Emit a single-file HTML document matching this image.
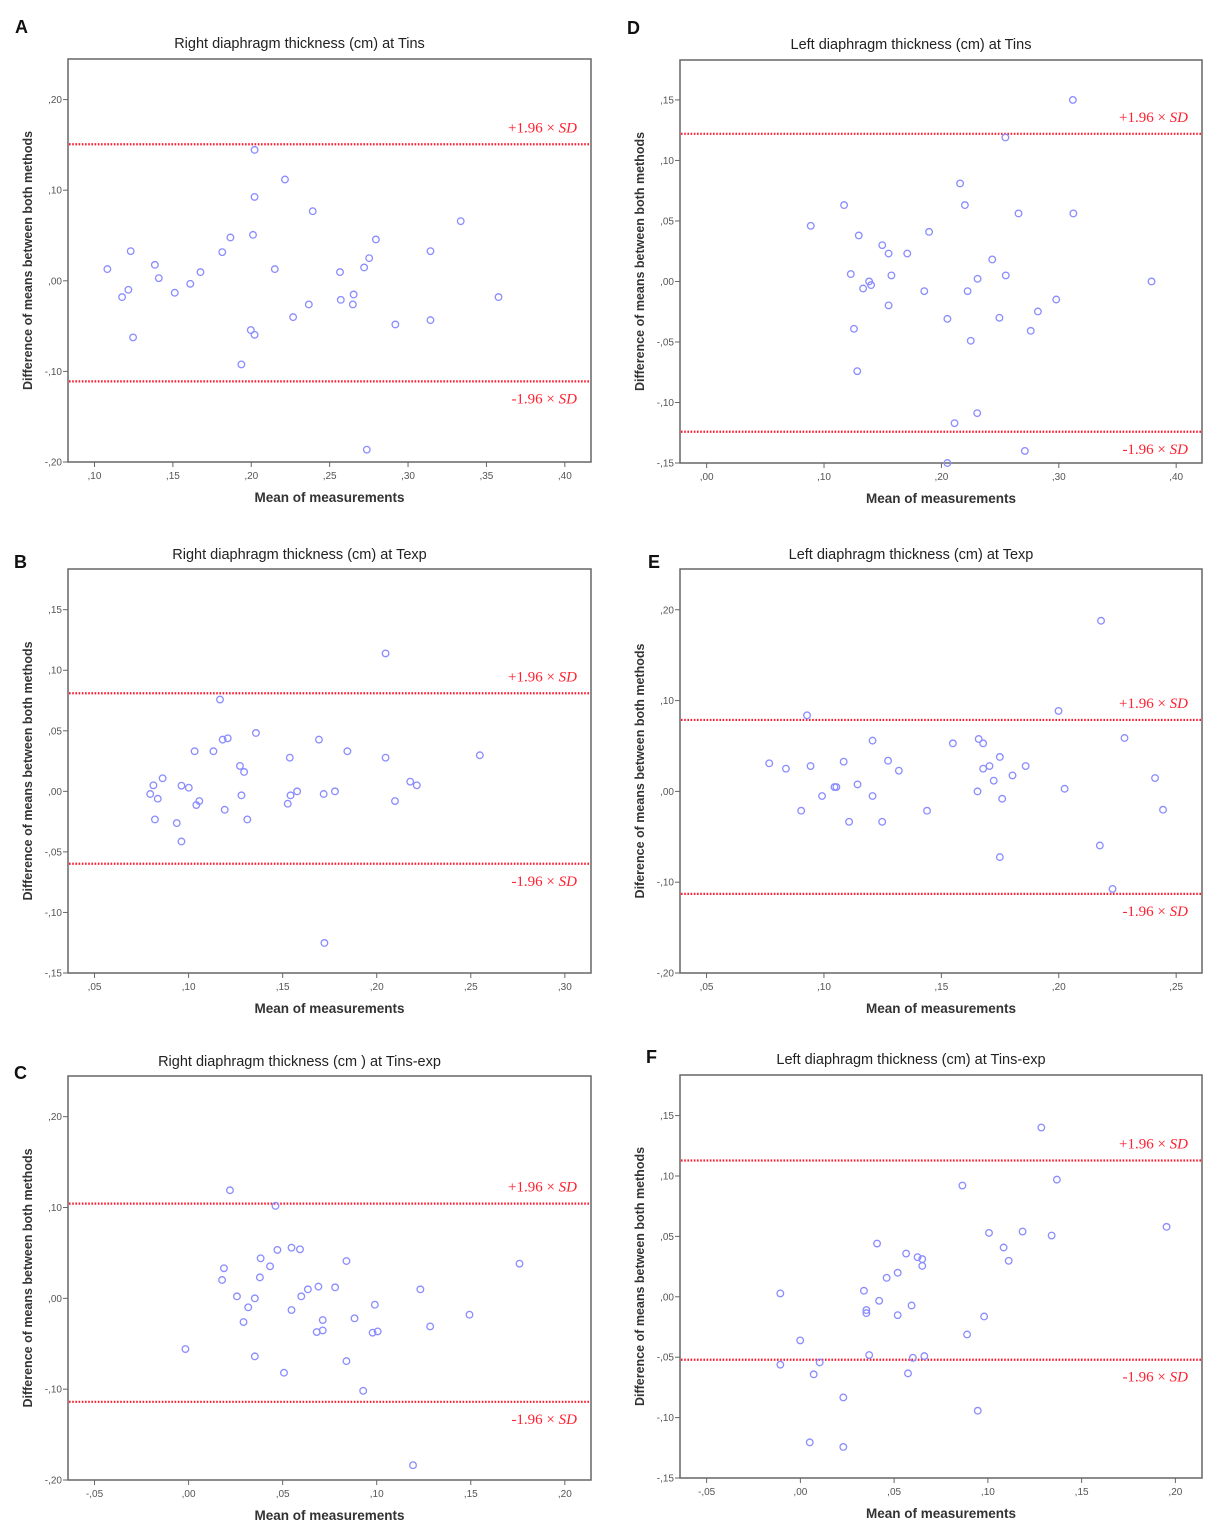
<!DOCTYPE html>
<html><head><meta charset="utf-8"><style>
html,body{margin:0;padding:0;background:#fff;}
svg{display:block;font-family:"Liberation Sans",sans-serif;}
</style></head>
<body>
<svg id="fig" width="1232" height="1538" viewBox="0 0 1232 1538"></svg>
<script>
// ---------- Panel A: Right diaphragm at Tins ----------
const aX = [0.1082,0.1176,0.1216,0.1231,0.1246,0.1385,0.141,0.1512,0.1611,0.1676,0.1815,0.1867,0.1937,0.1997,0.2011,0.2021,0.2021,0.2021,0.215,0.2215,0.2267,0.2367,0.2392,0.2566,0.2571,0.2648,0.2653,0.272,0.2737,0.2752,0.2795,0.2919,0.3143,0.3143,0.3336,0.3577];
const aY = [0.0129,-0.018,-0.0099,0.0327,-0.0625,0.0176,0.0029,-0.0132,-0.0033,0.0096,0.0316,0.0478,-0.0923,-0.0544,0.0507,-0.0596,0.0926,0.1445,0.0129,0.1118,-0.0401,-0.0261,0.0768,0.0096,-0.021,-0.0261,-0.0151,0.0147,-0.1864,0.025,0.0456,-0.0482,0.0327,-0.0434,0.0658,-0.018];
const aLimits = [0.1507,-0.111];
const aXTicks = [0.10,0.15,0.20,0.25,0.30,0.35,0.40];
const aYTicks = [-0.20,-0.10,0.00,0.10,0.20];

// ---------- Panel D: Left diaphragm at Tins ----------
const dX = [0.0887,0.1171,0.1228,0.1255,0.1283,0.1296,0.1333,0.1384,0.1401,0.1496,0.155,0.155,0.1574,0.1709,0.1854,0.1895,0.2051,0.2051,0.2112,0.2159,0.22,0.2223,0.225,0.2305,0.2308,0.2433,0.2494,0.2545,0.2548,0.2657,0.2711,0.2761,0.2822,0.2978,0.312,0.3124,0.379];
const dY = [0.046,0.0631,0.0061,-0.0391,-0.0741,0.038,-0.0058,0,-0.003,0.03,0.0231,-0.0198,0.005,0.0231,-0.008,0.041,-0.0309,-0.15,-0.1171,0.081,0.0631,-0.008,-0.049,-0.1088,0.0022,0.0182,-0.03,0.119,0.005,0.0562,-0.14,-0.0408,-0.0248,-0.0149,0.15,0.0562,0];
const dLimits = [0.122,-0.1242];
const dXTicks = [0.00,0.10,0.20,0.30,0.40];
const dYTicks = [-0.15,-0.10,-0.05,0.00,0.05,0.10,0.15];

// ---------- Panel B: Right diaphragm at Texp ----------
const bX = [0.0796,0.0813,0.0821,0.0836,0.0862,0.0937,0.0962,0.0962,0.1001,0.1032,0.1041,0.1057,0.1132,0.1167,0.1181,0.1192,0.1208,0.1273,0.1281,0.1295,0.1312,0.1358,0.1527,0.1538,0.1542,0.1577,0.1693,0.1718,0.1722,0.1778,0.1844,0.2047,0.2047,0.2097,0.2178,0.2213,0.2548];
const bY = [-0.0022,0.005,-0.0232,-0.0061,0.0108,-0.0262,0.0047,-0.0414,0.003,0.0331,-0.0113,-0.008,0.0331,0.0758,0.0427,-0.0152,0.0438,0.021,-0.0033,0.016,-0.0232,0.0482,-0.0102,0.0278,-0.0033,0,0.0427,-0.0022,-0.1252,0,0.0331,0.1139,0.0278,-0.008,0.008,0.005,0.0298];
const bLimits = [0.081,-0.0598];
const bXTicks = [0.05,0.10,0.15,0.20,0.25,0.30];
const bYTicks = [-0.15,-0.10,-0.05,0.00,0.05,0.10,0.15];

// ---------- Panel E: Left diaphragm at Texp ----------
const eX = [0.0767,0.0838,0.0903,0.0928,0.0943,0.0992,0.1045,0.1053,0.1084,0.1107,0.1143,0.1207,0.1207,0.1248,0.1273,0.1319,0.1439,0.1549,0.1654,0.1659,0.1678,0.1678,0.1705,0.1723,0.1749,0.1749,0.1759,0.1803,0.1859,0.1999,0.2025,0.2175,0.218,0.2229,0.228,0.241,0.2444];
const eY = [0.0309,0.025,-0.0213,0.0838,0.0279,-0.0051,0.0048,0.0048,0.0327,-0.0335,0.0077,0.0559,-0.0051,-0.0335,0.0338,0.0228,-0.0213,0.0529,0,0.0577,0.0529,0.025,0.0279,0.0118,0.0379,-0.0724,-0.0081,0.0176,0.0279,0.0886,0.0029,-0.0596,0.1879,-0.1074,0.0588,0.0147,-0.0202];
const eLimits = [0.0787,-0.1129];
const eXTicks = [0.05,0.10,0.15,0.20,0.25];
const eYTicks = [-0.20,-0.10,0.00,0.10,0.20];

// ---------- Panel C: Right diaphragm at Tins-exp ----------
const cX = [-0.0017,0.0178,0.0188,0.022,0.0257,0.0292,0.0317,0.0352,0.0352,0.0379,0.0383,0.0433,0.0462,0.0472,0.0507,0.0547,0.0547,0.0592,0.0599,0.0634,0.0681,0.069,0.0713,0.0713,0.0779,0.0839,0.0839,0.0882,0.0928,0.0978,0.099,0.1005,0.1193,0.1232,0.1284,0.1493,0.1759];
const cY = [-0.0558,0.0202,0.0331,0.119,0.0022,-0.0261,-0.0099,0,-0.0639,0.0231,0.0441,0.0353,0.1018,0.0533,-0.0819,0.0558,-0.0129,0.054,0.0022,0.0099,-0.0371,0.0129,-0.0239,-0.0353,0.0121,0.0411,-0.0691,-0.022,-0.1018,-0.0378,-0.007,-0.0364,-0.1837,0.0099,-0.0309,-0.018,0.0382];
const cLimits = [0.1043,-0.1139];
const cXTicks = [-0.05,0.00,0.05,0.10,0.15,0.20];
const cYTicks = [-0.20,-0.10,0.00,0.10,0.20];

// ---------- Panel F: Left diaphragm at Tins-exp ----------
const fX = [-0.0107,-0.0107,-0.0001,0.005,0.0071,0.0103,0.0229,0.0229,0.0339,0.0352,0.0352,0.0367,0.0409,0.042,0.046,0.0519,0.0519,0.0564,0.0574,0.0593,0.06,0.0625,0.065,0.065,0.0661,0.0864,0.0889,0.0946,0.098,0.1006,0.1084,0.1111,0.1185,0.1285,0.134,0.1368,0.1953];
const fY = [0.0028,-0.0562,-0.0361,-0.1205,-0.0642,-0.0543,-0.0833,-0.1243,0.005,-0.011,-0.0135,-0.0482,0.0441,-0.0033,0.0157,0.0199,-0.0152,0.0358,-0.0634,-0.0072,-0.0505,0.0328,0.0312,0.0256,-0.0491,0.0921,-0.0312,-0.0943,-0.0163,0.0529,0.0408,0.0298,0.054,0.1401,0.0507,0.097,0.0579];
const fLimits = [0.1128,-0.0521];
const fXTicks = [-0.05,0.00,0.05,0.10,0.15,0.20];
const fYTicks = [-0.15,-0.10,-0.05,0.00,0.05,0.10,0.15];

const NS = "http://www.w3.org/2000/svg";
const svg = document.getElementById("fig");
function mk(tag, attrs, parent){
  const el = document.createElementNS(NS, tag);
  for (const k in attrs) el.setAttribute(k, attrs[k]);
  (parent||svg).appendChild(el);
  return el;
}
function fmt(v){
  let s = Math.abs(v).toFixed(2).replace(/^0/,"").replace(".",",");
  if (v < -1e-9) s = "-" + s;
  return s;
}

function panel(cfg){
  const g = mk("g", {});
  
  
  const L=cfg.left, R=cfg.right, T=cfg.top, B=cfg.bottom;
  const sx = v => L + (v - cfg.xmin) / (cfg.xmax - cfg.xmin) * (R - L);
  const sy = v => B - (v - cfg.ymin) / (cfg.ymax - cfg.ymin) * (B - T);

  const letter = mk("text", {x:cfg.lx, y:cfg.ly, "font-size":18, "font-weight":"bold", fill:"#111"}, g);
  letter.textContent = cfg.letter;
  
  

  const title = mk("text", {x:(L+R)/2 - 30 + cfg.tdx, y:cfg.ty, "font-size":14.5, fill:"#222", "text-anchor":"middle"}, g);
  title.textContent = cfg.title;
  
  

  const frame = mk("rect", {x:L, y:T, width:R-L, height:B-T, fill:"#fff", stroke:"#666", "stroke-width":1.5}, g);
  
  

  cfg.xTicks.forEach(v => {
    const x = sx(v);
    const tk = mk("line", {x1:x, x2:x, y1:B, y2:B+5, stroke:"#666", "stroke-width":1}, g);
    
    
    const t = mk("text", {x:x, y:B+17, "font-size":10, fill:"#555", "text-anchor":"middle"}, g);
    t.textContent = fmt(v);
    
    
  });
  cfg.yTicks.forEach(v => {
    const y = sy(v);
    const tk = mk("line", {x1:L-5, x2:L, y1:y, y2:y, stroke:"#666", "stroke-width":1}, g);
    
    
    const t = mk("text", {x:L-6, y:y+3.5, "font-size":10, fill:"#555", "text-anchor":"end"}, g);
    t.textContent = fmt(v);
    
    
  });

  const xt = mk("text", {x:(L+R)/2, y:B+40, "font-size":13.5, "font-weight":"bold", fill:"#333", "text-anchor":"middle"}, g);
  xt.textContent = "Mean of measurements";
  
  

  const cy = (T+B)/2;
  const yt = mk("text", {x:0, y:0, "font-size":12.5, "font-weight":"bold", fill:"#333", "text-anchor":"middle", transform:`translate(${L-36},${cy}) rotate(-90)`}, g);
  yt.textContent = cfg.ylabel;
  
  

  cfg.limits.forEach((v, i) => {
    const y = sy(v);
    const ln = mk("line", {x1:L+1, x2:R-1, y1:y, y2:y, stroke:"#ff1a2e", "stroke-width":2.2, "stroke-dasharray":"1.6 1.6"}, g);
    
    
    const lab = mk("text", {x:R-14, y: i === 0 ? y-12 : y+22, "font-size":15, fill:"#ff2030", "text-anchor":"end", "font-family":"Liberation Serif, serif"}, g);
    
    
    const t1 = mk("tspan", {}, lab); t1.textContent = (i === 0 ? "+1.96 × " : "-1.96 × ");
    const t2 = mk("tspan", {"font-style":"italic"}, lab); t2.textContent = "SD";
  });

  cfg.xs.forEach((xv, i) => {
    const c = mk("circle", {cx:sx(xv), cy:sy(cfg.ys[i]), r:3.3, fill:"none", stroke:"#8a8cff", "stroke-width":1.3}, g);
    
    
  });
}

const yl = "Difference of means between both methods";
const LEFT = {left:68, right:591};
const RIGHT = {left:680, right:1202};
panel(Object.assign({letter:"A", lx:15, ly:33, title:"Right diaphragm thickness (cm) at Tins", ty:48, tdx:0, top:59, bottom:462, xmin:0.0831, xmax:0.4167, ymin:-0.2, ymax:0.2448, xTicks:aXTicks, yTicks:aYTicks, xs:aX, ys:aY, limits:aLimits, ylabel:yl}, LEFT));
panel(Object.assign({letter:"D", lx:627, ly:34, title:"Left diaphragm thickness (cm) at Tins", ty:49, tdx:0, top:60, bottom:463, xmin:-0.0227, xmax:0.422, ymin:-0.15, ymax:0.183, xTicks:dXTicks, yTicks:dYTicks, xs:dX, ys:dY, limits:dLimits, ylabel:yl}, RIGHT));
panel(Object.assign({letter:"B", lx:14, ly:568, title:"Right diaphragm thickness (cm) at Texp", ty:559, tdx:0, top:569, bottom:973, xmin:0.0359, xmax:0.3139, ymin:-0.15, ymax:0.1836, xTicks:bXTicks, yTicks:bYTicks, xs:bX, ys:bY, limits:bLimits, ylabel:yl}, LEFT));
panel(Object.assign({letter:"E", lx:648, ly:568, title:"Left diaphragm thickness (cm) at Texp", ty:559, tdx:0, top:569, bottom:973, xmin:0.0387, xmax:0.261, ymin:-0.2, ymax:0.2449, xTicks:eXTicks, yTicks:eYTicks, xs:eX, ys:eY, limits:eLimits, ylabel:"Diference of means between both methods"}, RIGHT));
panel(Object.assign({letter:"C", lx:14, ly:1079, title:"Right diaphragm thickness (cm ) at Tins-exp", ty:1066, tdx:0, top:1076, bottom:1480, xmin:-0.0641, xmax:0.2139, ymin:-0.2, ymax:0.2448, xTicks:cXTicks, yTicks:cYTicks, xs:cX, ys:cY, limits:cLimits, ylabel:yl}, LEFT));
panel(Object.assign({letter:"F", lx:646, ly:1063, title:"Left diaphragm thickness (cm) at Tins-exp", ty:1064, tdx:0, top:1075, bottom:1478, xmin:-0.0642, xmax:0.2142, ymin:-0.15, ymax:0.1836, xTicks:fXTicks, yTicks:fYTicks, xs:fX, ys:fY, limits:fLimits, ylabel:yl}, RIGHT));
</script>
</body></html>
